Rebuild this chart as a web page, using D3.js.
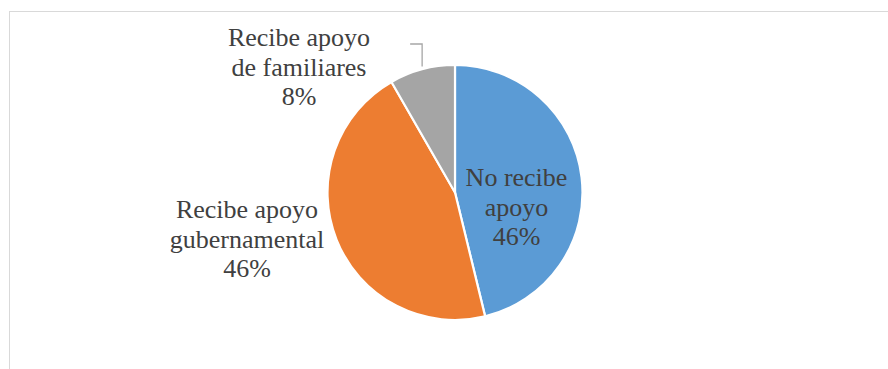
<!DOCTYPE html>
<html>
<head>
<meta charset="utf-8">
<script src="https://cdn.jsdelivr.net/npm/d3@7"></script>
<style>
  html, body { margin: 0; padding: 0; background: #ffffff; }
  svg { display: block; }
  .lbl { font-family: "Times New Roman", "Liberation Serif", "DejaVu Serif", serif; font-size: 26px; fill: #404040; }
</style>
</head>
<body>
<svg id="chart" width="888" height="369"></svg>
<script>
const categories = ["No recibe apoyo", "Recibe apoyo gubernamental", "Recibe apoyo de familiares"];
const values = [46.2, 45.5, 8.3];
const percentLabels = ["46%", "46%", "8%"];
const labelLines = [["No recibe", "apoyo"], ["Recibe apoyo", "gubernamental"], ["Recibe apoyo", "de familiares"]];
const colors = ["#5b9bd5", "#ed7d31", "#a5a5a5"];

const W = 888, H = 369;
const svg = d3.select("#chart");

svg.append("rect")
  .attr("x", 9.5).attr("y", 11.5)
  .attr("width", W + 20).attr("height", H + 20)
  .attr("fill", "none")
  .attr("stroke", "#d9d9d9")
  .attr("stroke-width", 1);

const cx = 455, cy = 192.5, r = 127.5;
const g = svg.append("g").attr("transform", `translate(${cx},${cy})`);

const data = categories.map((c, i) => ({ name: c, value: values[i], pct: percentLabels[i], lines: labelLines[i], color: colors[i] }));
const pie = d3.pie().value(d => d.value).sort(null);
const arcs = pie(data);
const arc = d3.arc().innerRadius(0).outerRadius(r);

g.selectAll("path.slice")
  .data(arcs)
  .enter().append("path")
  .attr("class", "slice")
  .attr("d", arc)
  .attr("fill", d => d.data.color)
  .attr("stroke", "#ffffff")
  .attr("stroke-width", 2.2)
  .attr("stroke-linejoin", "miter");

const labelPos = [
  { x: 61.5, y: -6.5 },
  { x: -208, y: 25.5 },
  { x: -156, y: -146.5 }
];
const lineH = 29.7;

arcs.forEach((a, i) => {
  const t = g.append("text")
    .attr("class", "lbl")
    .attr("text-anchor", "middle");
  const lines = a.data.lines.concat([a.data.pct]);
  lines.forEach((ln, k) => {
    t.append("tspan")
      .attr("x", labelPos[i].x)
      .attr("y", labelPos[i].y + k * lineH)
      .text(ln);
  });
});

const small = arcs[2];
const mid = (small.startAngle + small.endAngle) / 2;
const lx = r * Math.sin(mid);
const ly = -(r + 3) * Math.cos(mid);
const topY = -148.5;
g.append("polyline")
  .attr("points", `${lx - 12},${topY} ${lx},${topY} ${lx},${ly}`)
  .attr("fill", "none")
  .attr("stroke", "#a6a6a6")
  .attr("stroke-width", 1.3);
</script>
</body>
</html>
